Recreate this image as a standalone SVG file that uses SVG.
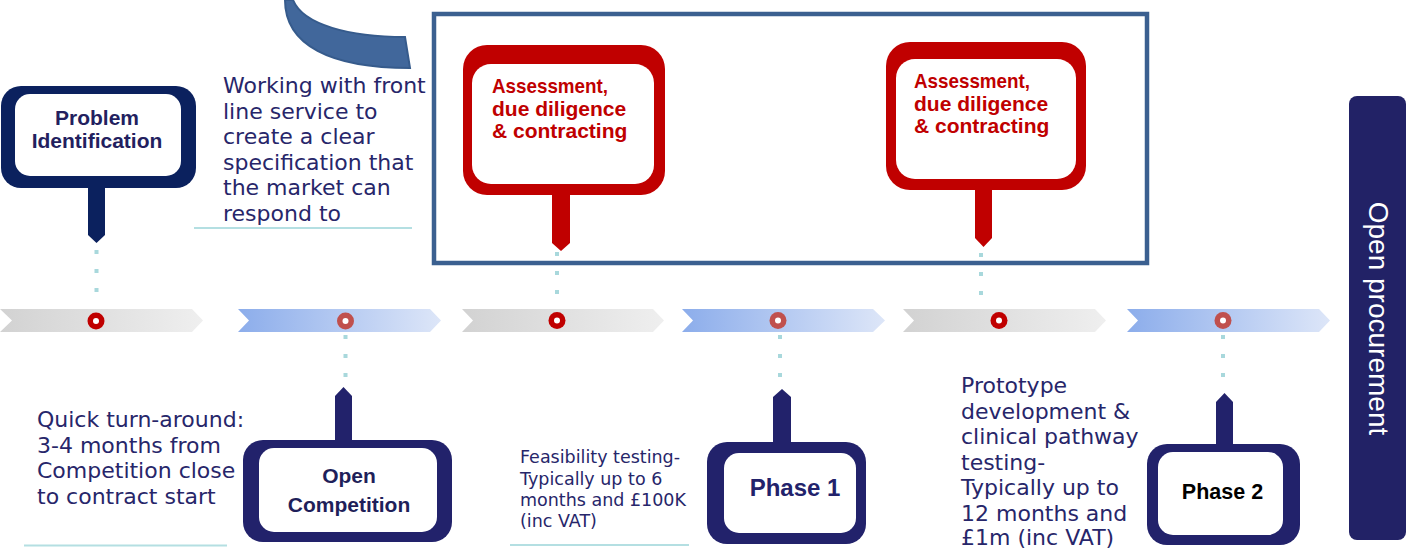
<svg xmlns="http://www.w3.org/2000/svg" width="1408" height="548" viewBox="0 0 1408 548">
<defs>
<linearGradient id="gGray" x1="0" y1="0" x2="1" y2="0">
<stop offset="0" stop-color="#d2d2d2"/><stop offset="1" stop-color="#efefef"/>
</linearGradient>
<linearGradient id="gBlue" x1="0" y1="0" x2="1" y2="0">
<stop offset="0" stop-color="#8cadeb"/><stop offset="1" stop-color="#dde6f8"/>
</linearGradient>
<style>
.txt{font-family:"DejaVu Sans",sans-serif;font-size:22px;fill:#27266a}
.small{font-size:17.5px}
.bold{font-family:"Liberation Sans",Arial,sans-serif;font-weight:bold;font-size:21px}
.red{fill:#c00000}
.navy{fill:#22226b}
.navy2{fill:#0b215e}
.white{fill:#ffffff}
.dots{stroke:#a8d8dc;stroke-width:4;stroke-dasharray:4 15;fill:none}
.under{stroke:#b4dfe2;stroke-width:2;fill:none}
.ringA{fill:#c00000}
.ringB{fill:#c0504d}
</style>
</defs>
<rect width="1408" height="548" fill="#ffffff"/>

<g id="curved-arrow">
<path d="M285,0 C285,45 330,68 410,68 L405,37 C350,37 303,25 293,0 Z" fill="#41679b" stroke="#365b8c" stroke-width="2"/>
</g>

<g id="assessment-frame">
<rect x="434" y="14" width="713" height="249" fill="none" stroke="#3b6090" stroke-width="4.5"/>
</g>

<g id="timeline">
<polygon points="0,309 192,309 203,320.5 192,332 0,332 12,320.5" fill="url(#gGray)"/>
<polygon points="238,309 430,309 441,320.5 430,332 238,332 249,320.5" fill="url(#gBlue)"/>
<polygon points="462,309 653,309 664,320.5 653,332 462,332 473,320.5" fill="url(#gGray)"/>
<polygon points="682,309 873,309 885,320.5 873,332 682,332 693,320.5" fill="url(#gBlue)"/>
<polygon points="903,309 1095,309 1106,320.5 1095,332 903,332 914,320.5" fill="url(#gGray)"/>
<polygon points="1127,309 1319,309 1330,320.5 1319,332 1127,332 1138,320.5" fill="url(#gBlue)"/>
<circle cx="96" cy="321" r="8.5" class="ringA"/><circle cx="96" cy="321" r="3" class="white"/>
<circle cx="345.5" cy="321" r="8.5" class="ringB"/><circle cx="345.5" cy="321" r="3" class="white"/>
<circle cx="557" cy="320.5" r="8.5" class="ringA"/><circle cx="557" cy="320.5" r="3" class="white"/>
<circle cx="778" cy="320.5" r="8.5" class="ringB"/><circle cx="778" cy="320.5" r="3" class="white"/>
<circle cx="999" cy="320.5" r="8.5" class="ringA"/><circle cx="999" cy="320.5" r="3" class="white"/>
<circle cx="1223" cy="320.5" r="8.5" class="ringB"/><circle cx="1223" cy="320.5" r="3" class="white"/>
</g>

<g id="connectors">
<line x1="96.5" y1="250" x2="96.5" y2="300" class="dots"/>
<line x1="557" y1="252" x2="557" y2="300" class="dots"/>
<line x1="981" y1="253" x2="981" y2="300" class="dots"/>
<line x1="345.5" y1="335" x2="345.5" y2="380" class="dots"/>
<line x1="780" y1="335" x2="780" y2="380" class="dots"/>
<line x1="1223" y1="335" x2="1223" y2="378" class="dots"/>
</g>

<g id="node-problem-identification">
<rect x="1" y="86" width="195" height="102" rx="20" class="navy2"/>
<rect x="15" y="94" width="166" height="82" rx="15" class="white"/>
<polygon points="88,186 105,186 105,235 96.5,243 88,235" class="navy2"/>
<text x="97" y="125" text-anchor="middle" class="bold" fill="#231f5f">Problem</text>
<text x="97" y="148" text-anchor="middle" class="bold" fill="#231f5f">Identification</text>
</g>

<g id="note-specification">
<text class="txt" x="223" y="93">Working with front</text>
<text class="txt" x="223" y="118.5">line service to</text>
<text class="txt" x="223" y="144">create a clear</text>
<text class="txt" x="223" y="169.5">specification that</text>
<text class="txt" x="223" y="195">the market can</text>
<text class="txt" x="223" y="220.5">respond to</text>
<line x1="194" y1="228" x2="412" y2="228" class="under"/>
</g>

<g id="node-assessment-1">
<rect x="463" y="45" width="202" height="150" rx="24" class="red"/>
<rect x="472" y="64" width="182" height="120" rx="19" class="white"/>
<polygon points="552,193 570,193 570,243 561,251 552,243" class="red"/>
<text x="492" y="93" class="bold red" textLength="116" lengthAdjust="spacingAndGlyphs">Assessment,</text>
<text x="492" y="116" class="bold red">due diligence</text>
<text x="492" y="138" class="bold red">&amp; contracting</text>
</g>

<g id="node-assessment-2">
<rect x="886" y="42" width="200" height="148" rx="24" class="red"/>
<rect x="896" y="59" width="180" height="120" rx="19" class="white"/>
<polygon points="975,188 992,188 992,238 983.5,247 975,238" class="red"/>
<text x="914" y="88" class="bold red" textLength="116" lengthAdjust="spacingAndGlyphs">Assessment,</text>
<text x="914" y="111" class="bold red">due diligence</text>
<text x="914" y="133" class="bold red">&amp; contracting</text>
</g>

<g id="note-quick-turnaround">
<text class="txt" x="37" y="427">Quick turn-around:</text>
<text class="txt" x="37" y="452.5">3-4 months from</text>
<text class="txt" x="37" y="478">Competition close</text>
<text class="txt" x="37" y="503.5">to contract start</text>
<line x1="24" y1="545.5" x2="227" y2="545.5" class="under"/>
</g>

<g id="node-open-competition">
<rect x="243" y="440" width="209" height="102" rx="20" class="navy"/>
<rect x="259" y="448" width="178" height="84" rx="15" class="white"/>
<polygon points="335,442 352,442 352,396 343.5,387 335,396" class="navy"/>
<text x="349" y="483" text-anchor="middle" class="bold" fill="#1f1f5a">Open</text>
<text x="349" y="512" text-anchor="middle" class="bold" fill="#1f1f5a">Competition</text>
</g>

<g id="note-feasibility">
<text class="txt small" x="520" y="463">Feasibility testing-</text>
<text class="txt small" x="520" y="484.5">Typically up to 6</text>
<text class="txt small" x="520" y="506">months and £100K</text>
<text class="txt small" x="520" y="527">(inc VAT)</text>
<line x1="510" y1="545" x2="689" y2="545" class="under"/>
</g>

<g id="node-phase-1">
<rect x="707" y="442" width="159" height="102" rx="20" class="navy"/>
<rect x="724" y="453" width="132" height="80" rx="15" class="white"/>
<polygon points="773,444 791,444 791,397 782,389 773,397" class="navy"/>
<text x="795" y="496" text-anchor="middle" class="bold navy" style="font-size:24px">Phase 1</text>
</g>

<g id="note-prototype">
<text class="txt" x="961" y="393">Prototype</text>
<text class="txt" x="961" y="418.5">development &amp;</text>
<text class="txt" x="961" y="444">clinical pathway</text>
<text class="txt" x="961" y="469.5">testing-</text>
<text class="txt" x="961" y="495">Typically up to</text>
<text class="txt" x="961" y="520.5">12 months and</text>
<text class="txt" x="961" y="545">£1m (inc VAT)</text>
</g>

<g id="node-phase-2">
<rect x="1147" y="444" width="153" height="101" rx="20" class="navy"/>
<rect x="1158" y="452" width="125" height="83" rx="15" class="white"/>
<polygon points="1216,446 1233,446 1233,402 1224.5,393 1216,402" class="navy"/>
<text x="1222.5" y="499" text-anchor="middle" class="bold" fill="#000000" style="font-size:21.5px">Phase 2</text>
</g>

<g id="node-open-procurement">
<rect x="1349" y="96" width="57" height="444" rx="8" fill="#222266"/>
<text transform="translate(1369,318.5) rotate(90)" text-anchor="middle" font-family="'Liberation Sans',Arial,sans-serif" font-size="28" fill="#ffffff">Open procurement</text>
</g>
</svg>
